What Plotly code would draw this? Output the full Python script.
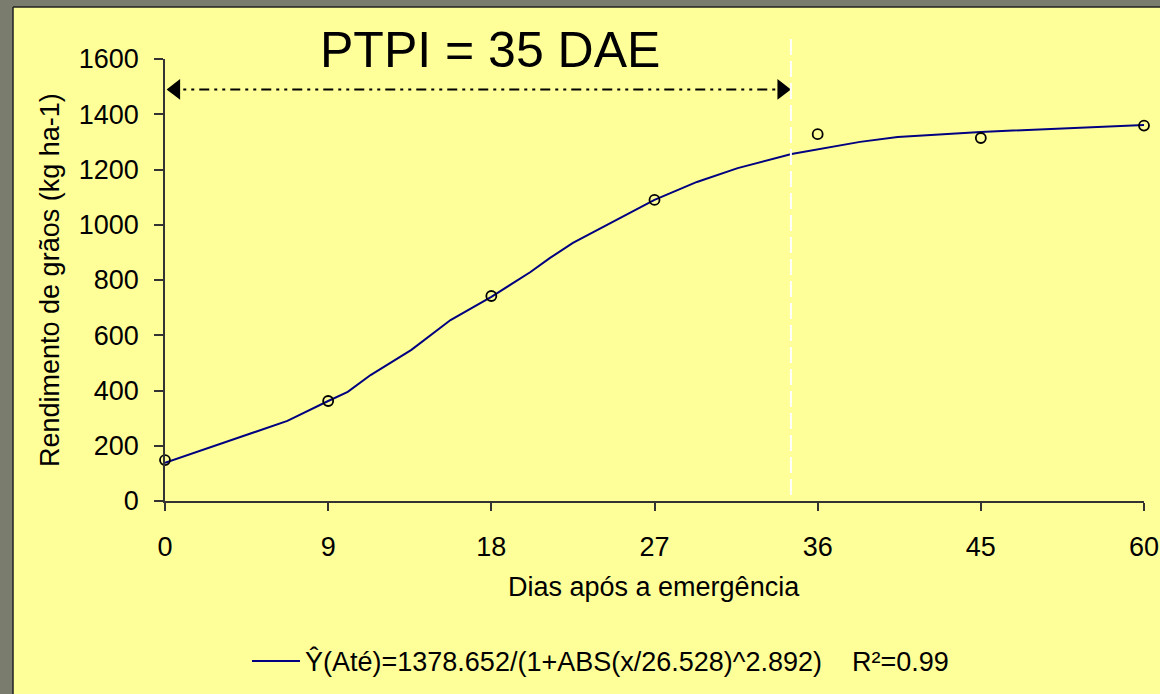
import plotly.graph_objects as go

# observed yields (kg/ha) at each sampling date (days after emergence)
dias = ['0', '9', '18', '27', '36', '45', '60']
rendimento = [148, 362, 742, 1090, 1328, 1314, 1359]

# fitted curve as drawn, x in category positions (0..6 = 0..60 DAE)
curva_x = [0, 0.5, 0.75, 1.0, 1.12, 1.26, 1.51, 1.75, 2.0, 2.24, 2.36, 2.5,
           3.0, 3.26, 3.51, 3.84, 4.26, 4.49, 5.0, 6.0]
curva_y = [138, 239, 290, 362, 395, 456, 547, 655, 739, 829, 880, 934,
           1090, 1155, 1205, 1256, 1300, 1318, 1336, 1361]

PTPI_POS = 3.836   # 35 DAE on the category axis
SETA_Y = 1490

W, H = 1160, 694
ML, MR, MT, MB = 165, 16, 59, 193
PW, PH = W - ML - MR, H - MT - MB


def px_x(p):
    return (p - ML) / PW


def px_y(p):
    return (H - MB - p) / PH


FONT = 'Liberation Sans, Arial, sans-serif'
YELLOW = '#FFFF99'
GRAY = '#7a7c6e'
NAVY = '#000080'

fig = go.Figure()

fig.add_trace(go.Scatter(x=curva_x, y=curva_y, mode='lines',
                         line=dict(color=NAVY, width=2), showlegend=False,
                         cliponaxis=False))
fig.add_trace(go.Scatter(x=list(range(len(dias))), y=rendimento, mode='markers',
                         marker=dict(symbol='circle-open', size=10, color='black',
                                     line=dict(width=1.8, color='black')),
                         showlegend=False, cliponaxis=False))
# arrow heads of the PTPI span
fig.add_trace(go.Scatter(x=[0.065, PTPI_POS - 0.055], y=[SETA_Y, SETA_Y], mode='markers',
                         marker=dict(symbol=['triangle-left', 'triangle-right'], size=18,
                                     color='black', line=dict(width=0)),
                         showlegend=False, cliponaxis=False))

shapes = [
    # gray frame (left and top)
    dict(type='rect', xref='paper', yref='paper', x0=px_x(0), x1=px_x(13),
         y0=px_y(H), y1=px_y(0), fillcolor=GRAY, line=dict(width=0), layer='below'),
    dict(type='rect', xref='paper', yref='paper', x0=px_x(0), x1=px_x(W),
         y0=px_y(7), y1=px_y(0), fillcolor=GRAY, line=dict(width=0), layer='below'),
    dict(type='line', xref='paper', yref='paper', x0=px_x(13), x1=px_x(13),
         y0=px_y(H), y1=px_y(7), line=dict(color='#222222', width=1.5)),
    dict(type='line', xref='paper', yref='paper', x0=px_x(13), x1=px_x(W),
         y0=px_y(7), y1=px_y(7), line=dict(color='#222222', width=1.5)),
    # PTPI span arrow
    dict(type='line', xref='x', yref='y', x0=0.02, x1=PTPI_POS - 0.05, y0=SETA_Y, y1=SETA_Y,
         line=dict(color='black', width=2, dash='10px,5px,3px,5px,3px,5px')),
    # white dashed vertical line at 35 DAE
    dict(type='line', xref='x', yref='paper', x0=PTPI_POS, x1=PTPI_POS,
         y0=px_y(495), y1=px_y(37), line=dict(color='white', width=2, dash='16px,6px')),
    # legend line sample
    dict(type='line', xref='paper', yref='paper', x0=px_x(252), x1=px_x(300),
         y0=px_y(661), y1=px_y(661), line=dict(color=NAVY, width=2)),
]

annotations = [
    dict(text='PTPI = 35 DAE', xref='paper', yref='paper', x=px_x(490), y=px_y(50),
         showarrow=False, font=dict(size=50, color='black', family=FONT),
         xanchor='center', yanchor='middle'),
    dict(text='Rendimento de grãos (kg ha-1)', xref='paper', yref='paper',
         x=px_x(50), y=px_y(280), textangle=-90, showarrow=False,
         font=dict(size=27, color='black', family=FONT), xanchor='center', yanchor='middle'),
    dict(text='Dias após a emergência', xref='paper', yref='paper',
         x=px_x(654), y=px_y(587), showarrow=False,
         font=dict(size=27, color='black', family=FONT), xanchor='center', yanchor='middle'),
    dict(text='Ŷ(Até)=1378.652/(1+ABS(x/26.528)^2.892)\u00a0\u00a0\u00a0\u00a0R²=0.99',
         xref='paper', yref='paper', x=px_x(303), y=px_y(661), showarrow=False,
         font=dict(size=27, color='black', family=FONT), xanchor='left', yanchor='middle'),
]

fig.update_layout(
    width=W, height=H,
    margin=dict(l=ML, r=MR, t=MT, b=MB, pad=0),
    paper_bgcolor=YELLOW, plot_bgcolor=YELLOW,
    font=dict(family=FONT, size=27, color='black'),
    shapes=shapes, annotations=annotations,
    showlegend=False,
)
fig.update_xaxes(range=[0, 6], tickvals=list(range(len(dias))), ticktext=dias,
                 showgrid=False, zeroline=False, showline=True, linecolor='#333333',
                 linewidth=1.5, ticks='outside', ticklen=8, tickwidth=1.5, tickcolor='#333333',
                 tickfont=dict(size=27), ticklabelstandoff=13, automargin=False)
fig.update_yaxes(range=[0, 1600], dtick=200, showgrid=False, zeroline=False,
                 showline=True, linecolor='#333333', linewidth=1.5, ticks='outside',
                 ticklen=9, tickwidth=1.5, tickcolor='#333333',
                 tickfont=dict(size=27), ticklabelstandoff=10, automargin=False)

# drop the browser's default body margin so the figure sits at the window origin
fig.write_html("out.html", config={'displayModeBar': False},
               post_script="document.body.style.margin='0px';")
